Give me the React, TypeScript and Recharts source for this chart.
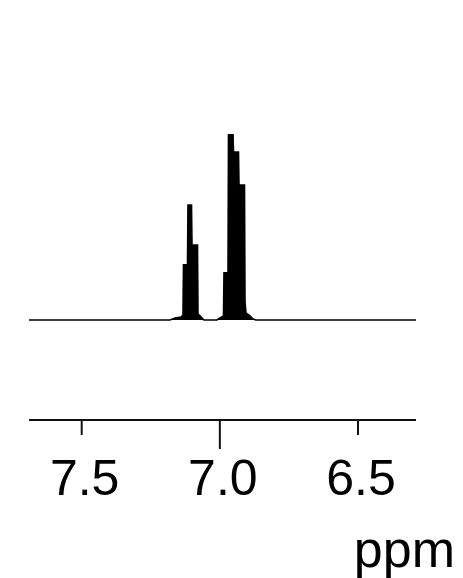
import { ComposedChart, Area, XAxis, YAxis, Label } from "recharts"

// chemical shift (ppm) and intensity
const shifts = [
  7.6907, 7.1804, 7.1623, 7.1406, 7.1334, 7.1316, 7.1171, 7.1153, 7.1026, 7.1008,
  7.0809, 7.0791, 7.0718, 7.061, 7.0574, 7.0103, 6.9995, 6.9868, 6.985, 6.9705,
  6.9687, 6.9524, 6.9506, 6.9325, 6.9307, 6.9108, 6.909, 6.9054, 6.8909, 6.88,
  6.8692, 6.2901,
]
const intensity = [
  0, 0, 1.1, 1.6, 2.7, 29.6, 29.6, 61.8, 61.8, 40.3,
  40.3, 3.2, 2.2, 0.5, 0, 0, 1.1, 2.2, 25.3, 25.3,
  100, 100, 90.3, 90.3, 72.6, 72.6, 9.7, 3.8, 2.2, 0.5,
  0, 0,
]
const tickValues = [7.5, 7.0, 6.5]
const majorTick = 7.0

const data = shifts.map((ppm, i) => ({ ppm, y: intensity[i] }))

const font = "'Liberation Sans', Arial, sans-serif"

function PpmTick(props: any) {
  const { x, y, payload } = props
  const len = payload.value === majorTick ? 29 : 15
  return (
    <g>
      <line x1={x} x2={x} y1={y} y2={y + len} stroke="#111" strokeWidth={2} />
      <text x={x + 3} y={y + 75} textAnchor="middle" fontSize={50} fontFamily={font} fill="#000">
        {payload.value.toFixed(1)}
      </text>
    </g>
  )
}

export default function App() {
  return (
    <div style={{ position: "absolute", left: 0, top: 0, width: 463, height: 578, background: "#fff" }}>
      <ComposedChart
        width={463}
        height={578}
        data={data}
        margin={{ top: 134, right: 47, left: 29, bottom: 0 }}
      >
        <XAxis
          dataKey="ppm"
          type="number"
          domain={[6.2901, 7.6907]}
          reversed
          ticks={tickValues}
          tick={<PpmTick />}
          tickLine={false}
          tickSize={0}
          tickMargin={0}
          height={158}
          axisLine={{ stroke: "#111", strokeWidth: 2 }}
          allowDataOverflow
        >
          <Label
            content={() => (
              <text x={455} y={567} textAnchor="end" fontSize={52} fontFamily={font} fill="#000">
                ppm
              </text>
            )}
          />
        </XAxis>
        <YAxis hide domain={[-53.8, 100]} allowDataOverflow />
        <Area
          type="linear"
          dataKey="y"
          baseValue={0}
          stroke="#000"
          strokeWidth={1.6}
          fill="#000"
          fillOpacity={1}
          dot={false}
          activeDot={false}
          isAnimationActive={false}
        />
      </ComposedChart>
    </div>
  )
}
